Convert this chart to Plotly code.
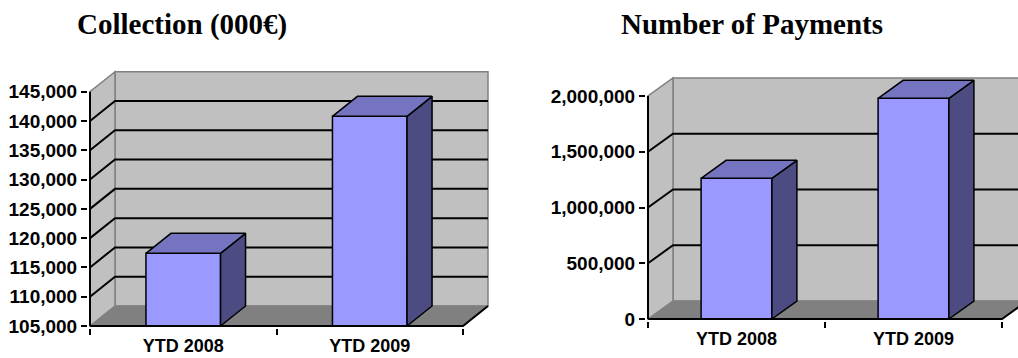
import plotly.graph_objects as go

W, H = 1018, 358

# ---------------- data ----------------
categories = ["YTD 2008", "YTD 2009"]
collection_values = [117400, 140800]
collection_ticks = [105000, 110000, 115000, 120000, 125000, 130000, 135000, 140000, 145000]
payments_values = [1262000, 1979000]
payments_ticks = [0, 500000, 1000000, 1500000, 2000000]
titles = ["Collection (000€)", "Number of Payments"]

# ---------------- style ----------------
FRONT, TOP, SIDE = "#9999FF", "#7474C1", "#4C4C82"
WALL, FLOOR, EDGE = "#C0C0C0", "#808080", "#808080"
TICKFONT = dict(family="Liberation Sans, Arial", size=19, color="black", weight="bold")
XTICKFONT = dict(family="Liberation Sans, Arial", size=18, color="black", weight="bold")
TITLEFONT = dict(family="Liberation Serif, Times New Roman", size=29, color="black", weight="bold")
BAR_W = 0.4
PAD = 2

# pixel geometry of the front plane of each 3-D box
panels = [
    dict(values=collection_values, ticks=collection_ticks, title=titles[0],
         left=90, right=463, bottom=326, top=91.7, dx=25, dy=20, title_x=182),
    dict(values=payments_values, ticks=payments_ticks, title=titles[1],
         left=648, right=1002, bottom=319, top=96, dx=25, dy=18, title_x=752),
]

fig = go.Figure()
shapes, annotations = [], []
xpos = list(range(len(categories)))

for k, p in enumerate(panels, start=1):
    xa = "x" if k == 1 else f"x{k}"
    ya = "y" if k == 1 else f"y{k}"
    xlo, xhi = -0.5, len(categories) - 0.5
    vmin, vmax = p["ticks"][0], p["ticks"][-1]
    ux = (xhi - xlo) / (p["right"] - p["left"])
    uy = (vmax - vmin) / (p["bottom"] - p["top"])
    DX, DY = p["dx"] * ux, p["dy"] * uy

    dom_l = p["left"] - PAD
    dom_r = p["right"] + p["dx"] + PAD
    xr = [xlo - PAD * ux, xhi + (p["dx"] + PAD) * ux]
    if dom_r > W:
        dom_r = W
        xr[1] = xlo + (W - p["left"]) * ux
    dom_b = p["bottom"] + PAD
    dom_t = p["top"] - p["dy"] - PAD
    yr = [vmin - PAD * uy, vmax + (p["dy"] + PAD) * uy]

    fig.layout[("xaxis" if k == 1 else f"xaxis{k}")] = dict(
        domain=[dom_l / W, dom_r / W], range=xr, anchor=ya, automargin=False,
        showgrid=False, zeroline=False, showline=False, fixedrange=True,
        tickmode="array", tickvals=xpos, ticktext=categories, ticks="",
        tickfont=XTICKFONT, ticklabelstandoff=5,
        minor=dict(tickmode="array", tickvals=[xlo + i for i in range(len(categories) + 1)],
                   ticks="outside", ticklen=6, tickwidth=2, tickcolor="black", showgrid=False),
    )
    fig.layout[("yaxis" if k == 1 else f"yaxis{k}")] = dict(
        domain=[1 - dom_b / H, 1 - dom_t / H], range=yr, anchor=xa, automargin=False,
        showgrid=False, zeroline=False, showline=False, fixedrange=True,
        tickmode="array", tickvals=p["ticks"], tickformat=",d",
        ticks="outside", ticklen=6, tickwidth=2, tickcolor="black",
        tickfont=TICKFONT,
    )

    ref = dict(xref=xa, yref=ya)
    # back wall
    shapes.append(dict(type="rect", x0=xlo + DX, x1=xhi + DX, y0=vmin + DY, y1=vmax + DY,
                       fillcolor=WALL, line=dict(color=EDGE, width=1.5), layer="below", **ref))
    # left side wall
    shapes.append(dict(type="path",
                       path=f"M{xlo},{vmin} L{xlo},{vmax} L{xlo+DX},{vmax+DY} L{xlo+DX},{vmin+DY} Z",
                       fillcolor=WALL, line=dict(color=EDGE, width=1.5), layer="below", **ref))
    # floor
    shapes.append(dict(type="path",
                       path=f"M{xlo},{vmin} L{xhi},{vmin} L{xhi+DX},{vmin+DY} L{xlo+DX},{vmin+DY} Z",
                       fillcolor=FLOOR, line=dict(color=EDGE, width=1), layer="below", **ref))
    # gridlines (side wall diagonal + back wall horizontal)
    for t in p["ticks"][1:-1]:
        shapes.append(dict(type="path",
                           path=f"M{xlo},{t} L{xlo+DX},{t+DY} L{xhi+DX},{t+DY}",
                           line=dict(color="black", width=2), layer="below", **ref))
    # axis lines
    shapes.append(dict(type="line", x0=xlo, x1=xlo, y0=vmin, y1=vmax,
                       line=dict(color="black", width=2), layer="above", **ref))
    shapes.append(dict(type="path",
                       path=f"M{xlo},{vmin} L{xhi},{vmin} L{xhi+DX},{vmin+DY}",
                       line=dict(color="black", width=2), layer="above", **ref))

    # front faces of the bars
    fig.add_trace(go.Bar(x=xpos, y=[v - vmin for v in p["values"]], base=vmin, width=BAR_W,
                         marker=dict(color=FRONT, line=dict(color="black", width=1.5)),
                         xaxis=xa, yaxis=ya, showlegend=False, hoverinfo="skip"))
    # top and side faces
    tx, ty, sx, sy = [], [], [], []
    for i, v in zip(xpos, p["values"]):
        x0, x1 = i - BAR_W / 2, i + BAR_W / 2
        tx += [x0, x1, x1 + DX, x0 + DX, x0, None]
        ty += [v, v, v + DY, v + DY, v, None]
        sx += [x1, x1, x1 + DX, x1 + DX, x1, None]
        sy += [vmin, v, v + DY, vmin + DY, vmin, None]
    fig.add_trace(go.Scatter(x=sx, y=sy, mode="lines", fill="toself", fillcolor=SIDE,
                             line=dict(color="black", width=1.5), xaxis=xa, yaxis=ya,
                             showlegend=False, hoverinfo="skip"))
    fig.add_trace(go.Scatter(x=tx, y=ty, mode="lines", fill="toself", fillcolor=TOP,
                             line=dict(color="black", width=1.5), xaxis=xa, yaxis=ya,
                             showlegend=False, hoverinfo="skip"))

    annotations.append(dict(text=p["title"], xref="paper", yref="paper",
                            x=p["title_x"] / W, y=1 - 24 / H, showarrow=False,
                            xanchor="center", yanchor="middle", font=TITLEFONT))

fig.update_layout(width=W, height=H, autosize=False,
                  margin=dict(l=0, r=0, t=0, b=0, pad=0, autoexpand=False),
                  paper_bgcolor="white", plot_bgcolor="white",
                  shapes=shapes, annotations=annotations, showlegend=False)

fig.write_html("out.html")
